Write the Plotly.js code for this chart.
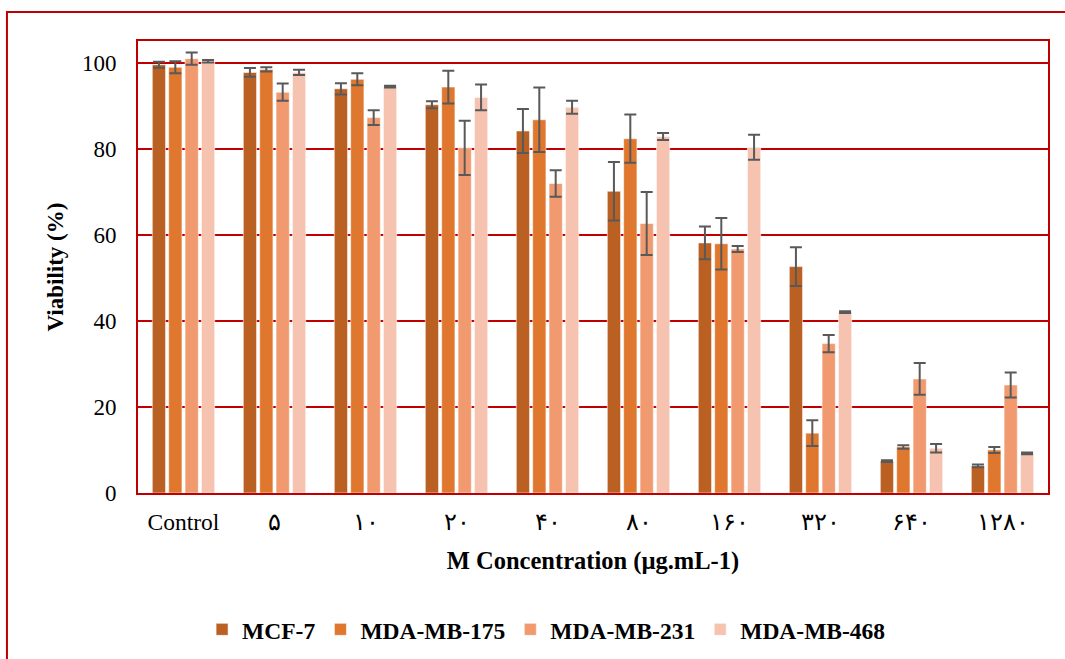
<!DOCTYPE html>
<html>
<head>
<meta charset="utf-8">
<script src="https://cdn.plot.ly/plotly-3.0.1.min.js"></script>
<style>html,body{margin:0;padding:0;background:#fff;}#chart{width:1065px;height:659px;}</style>
</head>
<body>
<div id="chart"></div>
<script>
const categories = ["Control", "۵", "۱۰", "۲۰", "۴۰", "۸۰", "۱۶۰", "۳۲۰", "۶۴۰", "۱۲۸۰"];
const seriesNames = ["MCF-7", "MDA-MB-175", "MDA-MB-231", "MDA-MB-468"];
const mcf7 = [99.5, 97.7, 93.9, 90.2, 84.1, 70.1, 58.1, 52.6, 7.4, 6.3];
const mcf7Err = [0.7, 1.0, 1.3, 0.8, 5.1, 6.8, 3.8, 4.5, 0.2, 0.3];
const mb175 = [98.9, 98.4, 96.1, 94.3, 86.7, 82.3, 57.9, 13.9, 10.7, 10.0];
const mb175Err = [1.4, 0.5, 1.4, 3.8, 7.5, 5.6, 6.0, 3.0, 0.4, 0.7];
const mb231 = [100.9, 93.1, 87.2, 80.2, 71.9, 62.6, 56.7, 34.7, 26.5, 25.1];
const mb231Err = [1.4, 2.0, 1.7, 6.3, 3.1, 7.3, 0.7, 2.0, 3.7, 2.9];
const mb468 = [100.3, 97.7, 94.4, 91.9, 89.6, 82.8, 80.3, 42.0, 10.4, 9.2];
const mb468Err = [0.3, 0.6, 0.2, 3.0, 1.5, 0.8, 2.9, 0.2, 1.0, 0.2];
const yTicks = [0, 20, 40, 60, 80, 100];

const colors = ["#BB6023", "#E0772F", "#F19A70", "#F6C3B1"];
const values = [mcf7, mb175, mb231, mb468];
const errs = [mcf7Err, mb175Err, mb231Err, mb468Err];

const font = "Liberation Serif, Times New Roman, serif";
const traces = seriesNames.map((n, i) => ({
  type: "bar",
  name: n,
  x: categories,
  y: values[i],
  marker: {color: colors[i], line: {color: "rgba(255,255,255,0.55)", width: 1}},
  error_y: {type: "data", array: errs[i], visible: true, color: "#595959", thickness: 2, width: 6}
}));

const layout = {
  width: 1065, height: 659,
  margin: {l: 138, r: 17, t: 41, b: 166},
  paper_bgcolor: "#fff", plot_bgcolor: "#fff",
  font: {family: font, size: 23, color: "#000"},
  barmode: "group", bargap: 0.28, bargroupgap: 0.19,
  showlegend: true,
  legend: {orientation: "h", xref: "paper", x: 0.449, xanchor: "center", yref: "container", y: 0.078, yanchor: "top",
           font: {family: font, size: 23.5, color: "#000", weight: "bold"}, traceorder: "normal"},
  xaxis: {
    type: "category", tickvals: categories, ticktext: categories, automargin: false,
    showline: true, linecolor: "#C00000", linewidth: 2, mirror: true,
    ticks: "", showgrid: false, ticklabelstandoff: 7,
    tickfont: {family: font, size: 23.5, color: "#000"},
    title: {text: "M Concentration (µg.mL-1)", standoff: 18, font: {family: font, size: 24.5, color: "#000", weight: "bold"}}
  },
  yaxis: {
    range: [0, 105], tickvals: yTicks, ticktext: yTicks.map(String), automargin: false,
    showline: true, linecolor: "#C00000", linewidth: 2, mirror: true,
    showgrid: true, gridcolor: "#C00000", gridwidth: 2, zeroline: false,
    ticks: "", ticklabelstandoff: 15,
    tickfont: {family: font, size: 23, color: "#000"},
    title: {text: "Viability (%)", standoff: 12, font: {family: font, size: 23, color: "#000", weight: "bold"}}
  },
  shapes: [{type: "rect", xref: "paper", yref: "paper", x0: -0.144, x1: 1.03, y0: -0.4, y1: 1.064,
            line: {color: "#C00000", width: 2}, fillcolor: "rgba(0,0,0,0)", layer: "below"}]
};

Plotly.newPlot("chart", traces, layout, {displayModeBar: false, staticPlot: true});
</script>
</body>
</html>
